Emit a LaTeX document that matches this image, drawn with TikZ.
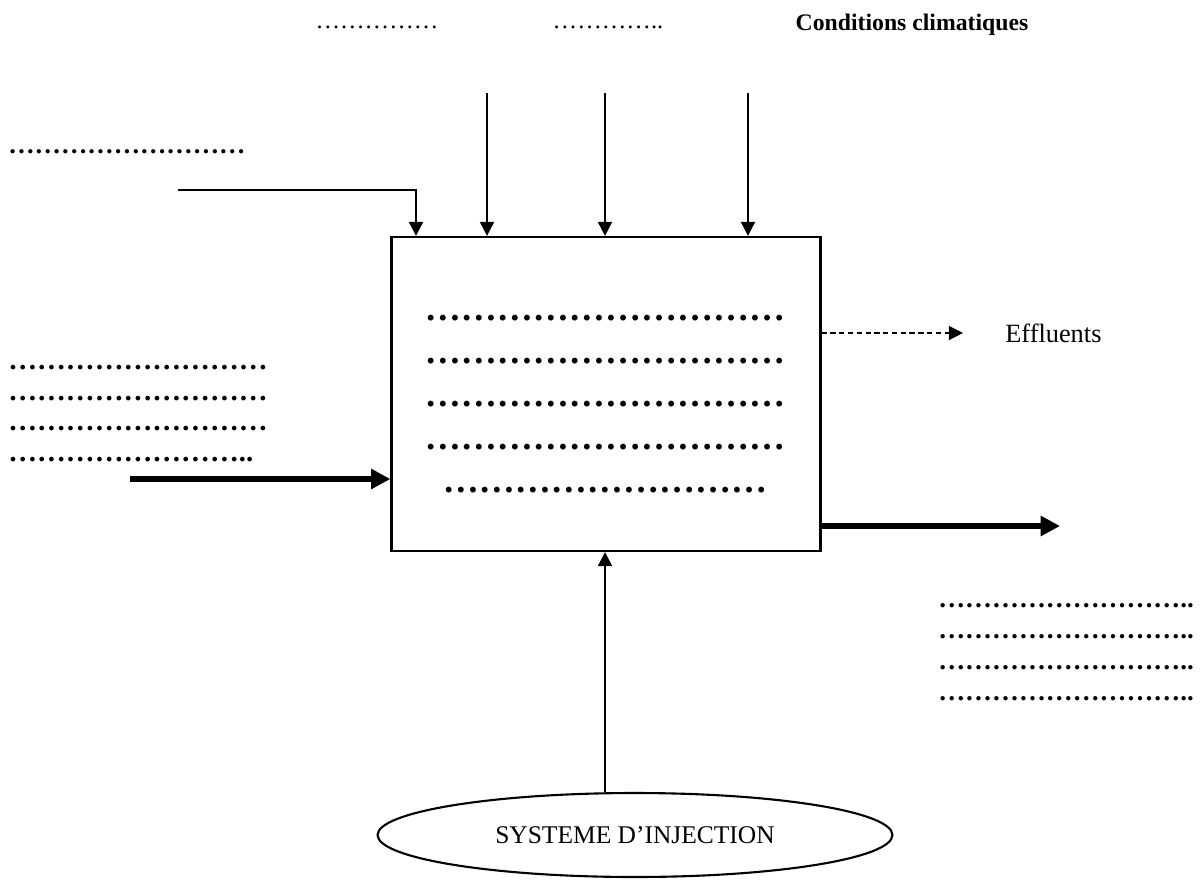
\documentclass[tikz,border=0pt]{standalone}
\usepackage{fontspec}
\setmainfont{Liberation Serif}
\usepackage{tikz}
\usetikzlibrary{shapes.geometric,arrows.meta,positioning,calc}

\newcommand{\pointille}[1]{\foreach \k in {1,...,#1}{…}}

\begin{document}
\begin{tikzpicture}[
  x=0.02cm, y=-0.02cm,
  procbox/.style={rectangle, draw=black, line width=1.3pt,
                  minimum width=8.58cm, minimum height=6.28cm, inner sep=0pt},
  injell/.style={ellipse, draw=black, line width=1.2pt,
                 minimum width=10.3cm, minimum height=1.68cm, inner sep=0pt,
                 font=\fontsize{14.5}{16}\selectfont},
  dotsrow/.style={inner sep=0pt, font=\bfseries},
  lbl/.style={inner sep=0pt, font=\fontsize{14}{16}\selectfont},
  thinarr/.style={-{Triangle[length=8pt,width=8pt]}, line width=1.1pt},
  fatarr/.style={-{Triangle[length=11pt,width=11pt]}, line width=3.4pt},
  dasharr/.style={-{Triangle[length=8pt,width=8pt]}, line width=0.6pt, densely dashed}
]
\useasboundingbox (0,0) rectangle (1200,886);

%% main box and injection system
\node[procbox] (proc) at (606,394) {};
\node[injell] (inj) at (635,835) {SYSTEME D’INJECTION};

%% dotted lines inside the box
\node[dotsrow, align=center, font=\bfseries\fontsize{20.5}{24.4}\selectfont]
  (procdots) at (605,404)
  {\pointille{10}\\\pointille{10}\\\pointille{10}\\\pointille{10}\\\pointille{9}};

%% labels on top
\node[lbl] (topa) at (377,27) {\pointille{5}};
\node[lbl] (topb) at (608,27) {\pointille{4}..};
\node[lbl, font=\bfseries\fontsize{13.5}{16}\selectfont] (clim) at (912,25) {Conditions climatiques};

%% labels on the left
\node[dotsrow, anchor=west, font=\bfseries\fontsize{15}{17}\selectfont] (lefta) at (8,152) {\pointille{9}};
\node[dotsrow, anchor=north west, align=left, font=\bfseries\fontsize{16.4}{17.4}\selectfont]
  (leftb) at (8,365) {\pointille{9}\\\pointille{9}\\\pointille{9}\\\pointille{8}..};

%% labels on the right
\node[lbl, anchor=west, font=\fontsize{15}{17}\selectfont] (effl) at (1005,333) {Effluents};
\node[dotsrow, anchor=north west, align=left, font=\bfseries\fontsize{15.3}{17.6}\selectfont]
  (rightb) at (938,603) {\pointille{9}..\\\pointille{9}..\\\pointille{9}..\\\pointille{9}..};

%% free ends
\coordinate (ina) at (487,93);
\coordinate (inb) at (605,93);
\coordinate (inc) at (748,93);
\coordinate (elb) at (178,190);
\coordinate (elbin) at (416,190);
\coordinate (inleft) at (130,479);
\coordinate (outfat) at (1060,526);
\coordinate (outeff) at (963,333);
\coordinate (injtop) at (605,0);

%% arrows
\draw[thinarr] (ina) -- (ina |- proc.north);
\draw[thinarr] (inb) -- (inb |- proc.north);
\draw[thinarr] (inc) -- (inc |- proc.north);
\draw[thinarr] (elb) -- (elbin) -- (elbin |- proc.north);
\draw[fatarr] (inleft) -- (inleft -| proc.west);
\draw[fatarr] (outfat -| proc.east) -- (outfat);
\draw[dasharr] (outeff -| proc.east) -- (outeff);
\draw[thinarr] (injtop |- inj.north) -- (injtop |- proc.south);

\end{tikzpicture}
\end{document}
